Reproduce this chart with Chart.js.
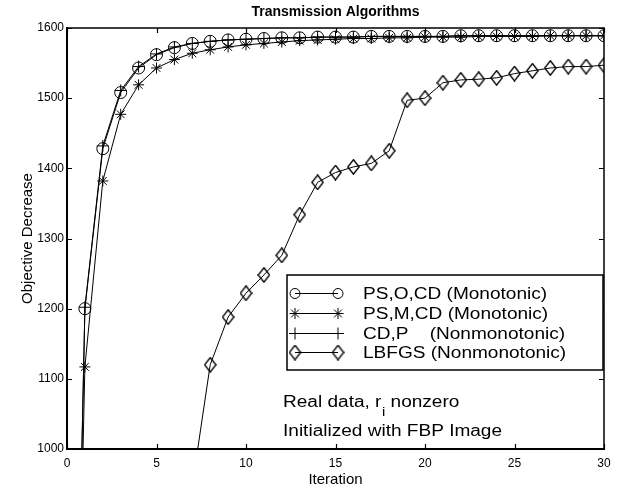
<!DOCTYPE html>
<html>
<head>
<meta charset="utf-8">
<script src="https://cdn.jsdelivr.net/npm/chart.js@4.4.1/dist/chart.umd.min.js"></script>
<style>
html,body{margin:0;padding:0;background:#ffffff;}
#wrap{width:618px;height:489px;}
canvas{display:block;}
</style>
</head>
<body>
<div id="wrap"><canvas id="chart" width="618" height="489"></canvas></div>
<script>
// ---- data ----
const iterations = [0,1,2,3,4,5,6,7,8,9,10,11,12,13,14,15,16,17,18,19,20,21,22,23,24,25,26,27,28,29,30];
const psOCD = [0,1200,1428,1508,1543,1562,1572,1578,1581,1583,1584,1585,1586,1586,1587,1587,1587,1588,1588,1588,1588,1588,1589,1589,1589,1589,1589,1589,1589,1589,1589];
const psMCD = [0,1117,1382,1477,1519,1543,1555,1564,1569,1573,1576,1578,1580,1582,1583,1584,1585,1585,1586,1586,1587,1587,1587,1588,1588,1588,1588,1589,1589,1589,1589];
const cdP   = [0,1202,1432,1511,1545,1563,1573,1578,1581,1583,1584,1585,1586,1586,1587,1587,1587,1588,1588,1588,1588,1588,1589,1589,1589,1589,1589,1589,1589,1589,1589];
const lbfgs = [null,null,null,null,null,null,null,948,1120,1188,1222,1248,1276,1334,1380,1394,1402,1407,1425,1497,1500,1522,1526,1527,1529,1535,1539,1543,1545,1545,1547];
const xTickValues = [0,5,10,15,20,25,30];
const yTickValues = [1000,1100,1200,1300,1400,1500,1600];
const seriesNames = ['PS,O,CD (Monotonic)','PS,M,CD (Monotonic)','CD,P    (Nonmonotonic)','LBFGS (Nonmonotonic)'];
const titleText = 'Transmission Algorithms';
const xTitle = 'Iteration';
const yTitle = 'Objective Decrease';
const noteLine1 = ['Real data, r', 'i', ' nonzero'];
const noteLine2 = 'Initialized with FBP Image';

const FONT = "'Liberation Sans', Arial, Helvetica, sans-serif";

function toPoints(ys){ return iterations.map((x,i)=>({x:x, y:ys[i]})); }

function makeDiamond(w,h){
  const c=document.createElement('canvas'); c.width=w; c.height=h;
  const g=c.getContext('2d'); g.strokeStyle='#000'; g.lineWidth=1.4;
  g.beginPath(); g.moveTo(w/2,0.8); g.lineTo(w-0.8,h/2); g.lineTo(w/2,h-0.8); g.lineTo(0.8,h/2); g.closePath(); g.stroke();
  return c;
}
const diamond = makeDiamond(13,16);

const base = {borderColor:'#000', backgroundColor:'rgba(0,0,0,0)', borderWidth:1,
  pointBorderColor:'#000', pointBackgroundColor:'rgba(0,0,0,0)', pointBorderWidth:1,
  tension:0, fill:false, spanGaps:false};

const datasets = [
  Object.assign({}, base, {label:seriesNames[0], data:toPoints(psOCD), pointStyle:'circle', pointRadius:6}),
  Object.assign({}, base, {label:seriesNames[1], data:toPoints(psMCD), pointStyle:'star', pointRadius:5.5}),
  Object.assign({}, base, {label:seriesNames[2], data:toPoints(cdP), pointStyle:'cross', pointRadius:6}),
  Object.assign({}, base, {label:seriesNames[3], data:toPoints(lbfgs), pointStyle:diamond, pointRadius:8})
];

function drawMarker(ctx, style, radius, x, y){
  ctx.save();
  ctx.strokeStyle='#000'; ctx.fillStyle='rgba(0,0,0,0)'; ctx.lineWidth=1;
  if (Chart.helpers && Chart.helpers.drawPoint){
    Chart.helpers.drawPoint(ctx, {pointStyle:style, rotation:0, radius:radius, borderWidth:1}, x, y);
  } else if (typeof style !== 'string'){
    ctx.drawImage(style, x-style.width/2, y-style.height/2);
  } else {
    ctx.beginPath(); ctx.arc(x,y,radius,0,Math.PI*2); ctx.stroke();
  }
  ctx.restore();
}

function stretchedText(ctx, text, x, y, size, sx){
  ctx.save();
  ctx.font = size+'px '+FONT;
  ctx.fillStyle='#000'; ctx.textBaseline='alphabetic'; ctx.textAlign='left';
  ctx.translate(x,y); ctx.scale(sx,1);
  ctx.fillText(text,0,0);
  const w = ctx.measureText(text).width*sx;
  ctx.restore();
  return w;
}

const frameTicks = {
  id:'frameTicks',
  afterDatasetsDraw(chart){
    const {ctx, chartArea:a, scales} = chart;
    const xs = scales.x, ys = scales.y;
    ctx.save();
    ctx.strokeStyle='#000';
    ctx.lineWidth=1.5;
    ctx.beginPath(); ctx.moveTo(a.left,a.top); ctx.lineTo(a.right,a.top); ctx.lineTo(a.right,a.bottom); ctx.stroke();
    ctx.lineWidth=1.2;
    const L=5;
    ctx.beginPath();
    xs.ticks.forEach(t=>{const p=Math.round(xs.getPixelForValue(t.value))+0.5; ctx.moveTo(p,a.bottom); ctx.lineTo(p,a.bottom-L); ctx.moveTo(p,a.top); ctx.lineTo(p,a.top+L);});
    ys.ticks.forEach(t=>{const p=Math.round(ys.getPixelForValue(t.value))+0.5; ctx.moveTo(a.left,p); ctx.lineTo(a.left+L,p); ctx.moveTo(a.right,p); ctx.lineTo(a.right-L,p);});
    ctx.stroke();
    ctx.restore();
  }
};

const legendAndNotes = {
  id:'legendAndNotes',
  afterDraw(chart){
    const {ctx, chartArea:a} = chart;
    const bx = a.left+220, by = a.top+247, bw = a.right-1-bx, bh = 95;
    ctx.save();
    ctx.fillStyle='#fff'; ctx.fillRect(bx,by,bw,bh);
    ctx.strokeStyle='#000'; ctx.lineWidth=1.5; ctx.strokeRect(bx,by,bw,bh);
    const rowY = [18.5, 38.5, 58.5, 77.5];
    chart.data.datasets.forEach((ds,i)=>{
      const cy = by + rowY[i];
      const x1 = bx+8, x2 = bx+51;
      ctx.strokeStyle='#000'; ctx.lineWidth=1;
      ctx.beginPath(); ctx.moveTo(x1,cy); ctx.lineTo(x2,cy); ctx.stroke();
      const r = ds.pointStyle==='circle' ? 5 : ds.pointRadius;
      drawMarker(ctx, ds.pointStyle, r, x1, cy);
      drawMarker(ctx, ds.pointStyle, r, x2, cy);
      stretchedText(ctx, ds.label, bx+76, cy+5.8, 16, 1.19);
    });
    // annotation
    let x = a.left+216;
    x += stretchedText(ctx, noteLine1[0], x, 406.5, 16, 1.19);
    const wi = stretchedText(ctx, noteLine1[1], x+0.5, 416, 13, 1.15);
    x += wi + 0.5;
    stretchedText(ctx, noteLine1[2], x, 406.5, 16, 1.19);
    stretchedText(ctx, noteLine2, a.left+216, 435.5, 16, 1.19);
    ctx.restore();
  }
};

new Chart(document.getElementById('chart'), {
  type:'line',
  data:{datasets:datasets},
  options:{
    responsive:false, animation:false, devicePixelRatio:1,
    layout:{padding:{top:0,right:14,bottom:0,left:0}},
    plugins:{
      legend:{display:false},
      tooltip:{enabled:false},
      title:{display:true, text:titleText, fullSize:false, color:'#000',
        font:{family:FONT, size:14, weight:'bold'}, padding:{top:4,bottom:7.2}}
    },
    scales:{
      x:{type:'linear', min:0, max:30,
        afterBuildTicks(s){ s.ticks = xTickValues.map(v=>({value:v})); },
        grid:{display:false, drawTicks:false},
        border:{display:true, color:'#000', width:2},
        ticks:{color:'#000', font:{family:FONT,size:12}, padding:7, maxRotation:0, autoSkip:false,
          callback:(v)=>String(v)},
        title:{display:true, text:xTitle, color:'#000', font:{family:FONT,size:15}, padding:{top:0,bottom:0}},
        afterFit(s){ s.height = 40; }
      },
      y:{type:'linear', min:1000, max:1600,
        afterBuildTicks(s){ s.ticks = yTickValues.map(v=>({value:v})); },
        grid:{display:false, drawTicks:false},
        border:{display:true, color:'#000', width:2},
        ticks:{color:'#000', font:{family:FONT,size:12}, padding:3, autoSkip:false,
          callback:(v)=>String(v)},
        title:{display:true, text:yTitle, color:'#000', font:{family:FONT,size:15}, padding:{top:19,bottom:0}},
        afterFit(s){ s.width = 67; }
      }
    }
  },
  plugins:[frameTicks, legendAndNotes]
});
</script>
</body>
</html>
